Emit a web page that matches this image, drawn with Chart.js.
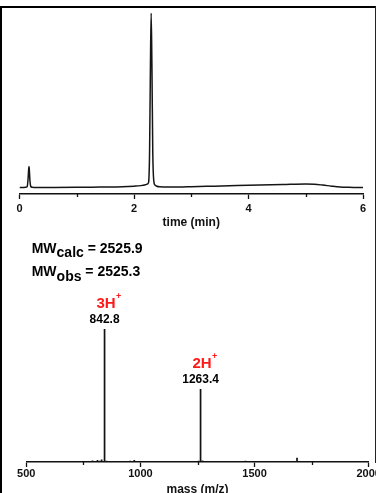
<!DOCTYPE html>
<html>
<head>
<meta charset="utf-8">
<script src="https://cdn.jsdelivr.net/npm/chart.js@4"></script>
<style>
  html, body { margin: 0; padding: 0; background: #fff; width: 376px; height: 493px; overflow: hidden; }
  #wrap { position: relative; width: 376px; height: 493px; overflow: hidden; background: #fff; }
  canvas { position: absolute; left: 0; display: block; }
  #lc { top: 0; }
  #ms { top: 235px; }
  #frame { position: absolute; left: 0; top: 6px; width: 376px; height: 487px; box-sizing: border-box;
           border-top: 2px solid #000; border-left: 2px solid #000; pointer-events: none; }
  #edge { position: absolute; left: 375px; top: 6px; width: 1px; height: 457px; background: #222; }
</style>
</head>
<body>
<div id="wrap">
  <canvas id="lc" width="376" height="235"></canvas>
  <canvas id="ms" width="376" height="270"></canvas>
  <div id="frame"></div>
  <div id="edge"></div>
</div>
<script>
// ---- LC trace (UV signal, relative to main peak = 100) ----
const timeMin = [0, 0.05, 0.10, 0.135, 0.150, 0.160, 0.166, 0.172, 0.182, 0.195, 0.22, 0.30, 0.60,
                 1.00, 1.40, 1.80, 2.00, 2.12, 2.20, 2.235, 2.255, 2.272, 2.287, 2.300, 2.313, 2.328,
                 2.345, 2.365, 2.39, 2.45, 2.60, 2.80, 3.00, 3.40, 3.80, 4.20, 4.60, 5.00, 5.15,
                 5.30, 5.45, 5.60, 5.75, 5.90, 6.00];
const uvSignal = [0, 0, 0.1, 0.6, 5, 10.5, 12, 10, 4, 0.8, 0.1, 0, 0,
                  0.1, 0.3, 0.5, 0.8, 1.1, 1.6, 2.0, 3, 20, 70, 100, 70, 20,
                  4, 1.5, 0.9, 0.4, 0.3, 0.3, 0.5, 0.8, 1.1, 1.4, 1.7, 2.0, 1.9,
                  1.4, 0.8, 0.3, 0.1, 0, 0];
const timeTicks = [0, 2, 4, 6];
const timeMinorTicks = [1, 3, 5];

// ---- ESI mass spectrum (relative intensity) ----
const massMz = [540, 610, 690, 735, 790, 812, 823, 830, 842.8, 851, 865, 905, 955, 973, 985,
                1050, 1120, 1180, 1255, 1263.4, 1272, 1330, 1420, 1460, 1530, 1600, 1686,
                1750, 1820, 1900, 1960];
const massIntensity = [0.5, 0.6, 0.5, 0.8, 1.2, 1.5, 1.0, 1.8, 100, 1.0, 0.8, 0.8, 1.0, 1.5, 0.8,
                       0.6, 0.7, 0.5, 1.0, 54.8, 1.2, 0.6, 0.7, 1.0, 0.5, 0.6, 3.2,
                       0.5, 0.6, 0.5, 0.5];
const massTicks = [500, 1000, 1500, 2000];
const massMinorTicks = [750, 1250, 1750];

// charge-state assignments
const ionLabels = ['3H', '2H'];
const ionMz = [842.8, 1263.4];

// molecular weights
const mwCalc = 2525.9;
const mwObs = 2525.3;

const FONT = "'Liberation Sans', Arial, sans-serif";
const INK = '#111';
const RED = '#ff1a1a';

function fixedTicks(list) {
  return scale => { scale.ticks = list.map(v => ({ value: v })); };
}

function minorTickPlugin(values) {
  return {
    id: 'minorTicks',
    afterDraw(chart) {
      const { ctx, chartArea, scales: { x } } = chart;
      ctx.save();
      ctx.strokeStyle = INK;
      ctx.lineWidth = 1.3;
      values.forEach(v => {
        const px = Math.round(x.getPixelForValue(v)) + 0.5;
        ctx.beginPath();
        ctx.moveTo(px, chartArea.bottom);
        ctx.lineTo(px, chartArea.bottom + 3);
        ctx.stroke();
      });
      ctx.restore();
    }
  };
}

function xAxis(min, max, ticks, title, height, titlePad, tickPad) {
  return {
    type: 'linear', min, max, offset: false,
    afterBuildTicks: fixedTicks(ticks),
    afterFit: s => { s.height = height; s.paddingLeft = 0; s.paddingRight = 0; },
    grid: { display: true, offset: false, drawOnChartArea: false, drawTicks: true,
            tickLength: 5, tickColor: INK, tickWidth: 1.3 },
    border: { display: true, color: INK, width: 1.6 },
    ticks: { padding: tickPad, color: INK, maxRotation: 0, autoSkip: false,
             callback: v => String(v),
             font: { family: FONT, size: 11, weight: 'bold' } },
    title: { display: true, text: title, color: INK, padding: { top: 0, bottom: titlePad },
             font: { family: FONT, size: 12, weight: 'bold' } }
  };
}

// ---- LC chromatogram ----
new Chart(document.getElementById('lc'), {
  type: 'line',
  data: {
    datasets: [{
      data: timeMin.map((t, i) => ({ x: t, y: uvSignal[i] })),
      borderColor: '#151515', borderWidth: 1.5, pointRadius: 0,
      cubicInterpolationMode: 'monotone', fill: false
    }]
  },
  options: {
    responsive: false, animation: false, devicePixelRatio: 1,
    layout: { padding: { left: 19.5, right: 13, top: 13, bottom: 0 } },
    plugins: { legend: { display: false }, tooltip: { enabled: false } },
    scales: {
      x: xAxis(0, 6, timeTicks, 'time (min)', 41, 5, 3),
      y: { display: false, min: -3.7, max: 100 }
    }
  },
  plugins: [minorTickPlugin(timeMinorTicks)]
});

// ---- mass spectrum ----
const annotationPlugin = {
  id: 'msAnnotations',
  afterDraw(chart) {
    const { ctx, scales: { x, y } } = chart;
    ctx.save();
    ctx.fillStyle = '#000';
    // molecular weight lines
    const drawMW = (sub, val, baseY) => {
      let cx = 31.7;
      ctx.textAlign = 'left';
      ctx.textBaseline = 'alphabetic';
      ctx.font = `bold 14px ${FONT}`;
      ctx.fillText('MW', cx, baseY);
      cx += ctx.measureText('MW').width;
      ctx.fillText(sub, cx, baseY + 4.5);
      cx += ctx.measureText(sub).width;
      ctx.fillText(' = ' + val.toFixed(1), cx, baseY);
    };
    drawMW('calc', mwCalc, 17.7);
    drawMW('obs', mwObs, 41);

    // charge-state labels above the peaks
    ionMz.forEach((mz, i) => {
      const inten = massIntensity[massMz.indexOf(mz)];
      const px = x.getPixelForValue(mz);
      const py = y.getPixelForValue(inten);
      ctx.textBaseline = 'middle';
      ctx.textAlign = 'center';
      ctx.fillStyle = '#000';
      ctx.font = `bold 12px ${FONT}`;
      ctx.fillText(mz.toFixed(1), px, py - 9.6);
      ctx.fillStyle = RED;
      ctx.font = `bold 15px ${FONT}`;
      const w = ctx.measureText(ionLabels[i]).width;
      const cx = px + 1.5;
      const cy = py - 25.4;
      ctx.fillText(ionLabels[i], cx, cy);
      ctx.font = `bold 9px ${FONT}`;
      ctx.textAlign = 'left';
      ctx.fillText('+', cx + w / 2 + 0.3, cy - 7.5);
    });
    ctx.restore();
  }
};

new Chart(document.getElementById('ms'), {
  type: 'bar',
  data: {
    datasets: [{
      data: massMz.map((m, i) => ({ x: m, y: massIntensity[i] })),
      backgroundColor: '#111', borderWidth: 0, barThickness: 1.7, inflateAmount: 0
    }]
  },
  options: {
    responsive: false, animation: false, devicePixelRatio: 1,
    layout: { padding: { left: 26.3, right: 7.3, top: 94, bottom: 0 } },
    plugins: { legend: { display: false }, tooltip: { enabled: false } },
    scales: {
      x: xAxis(500, 2000, massTicks, 'mass (m/z)', 43, 8.5, 0.5),
      y: { display: false, min: 0, max: 100 }
    }
  },
  plugins: [minorTickPlugin(massMinorTicks), annotationPlugin]
});
</script>
</body>
</html>
